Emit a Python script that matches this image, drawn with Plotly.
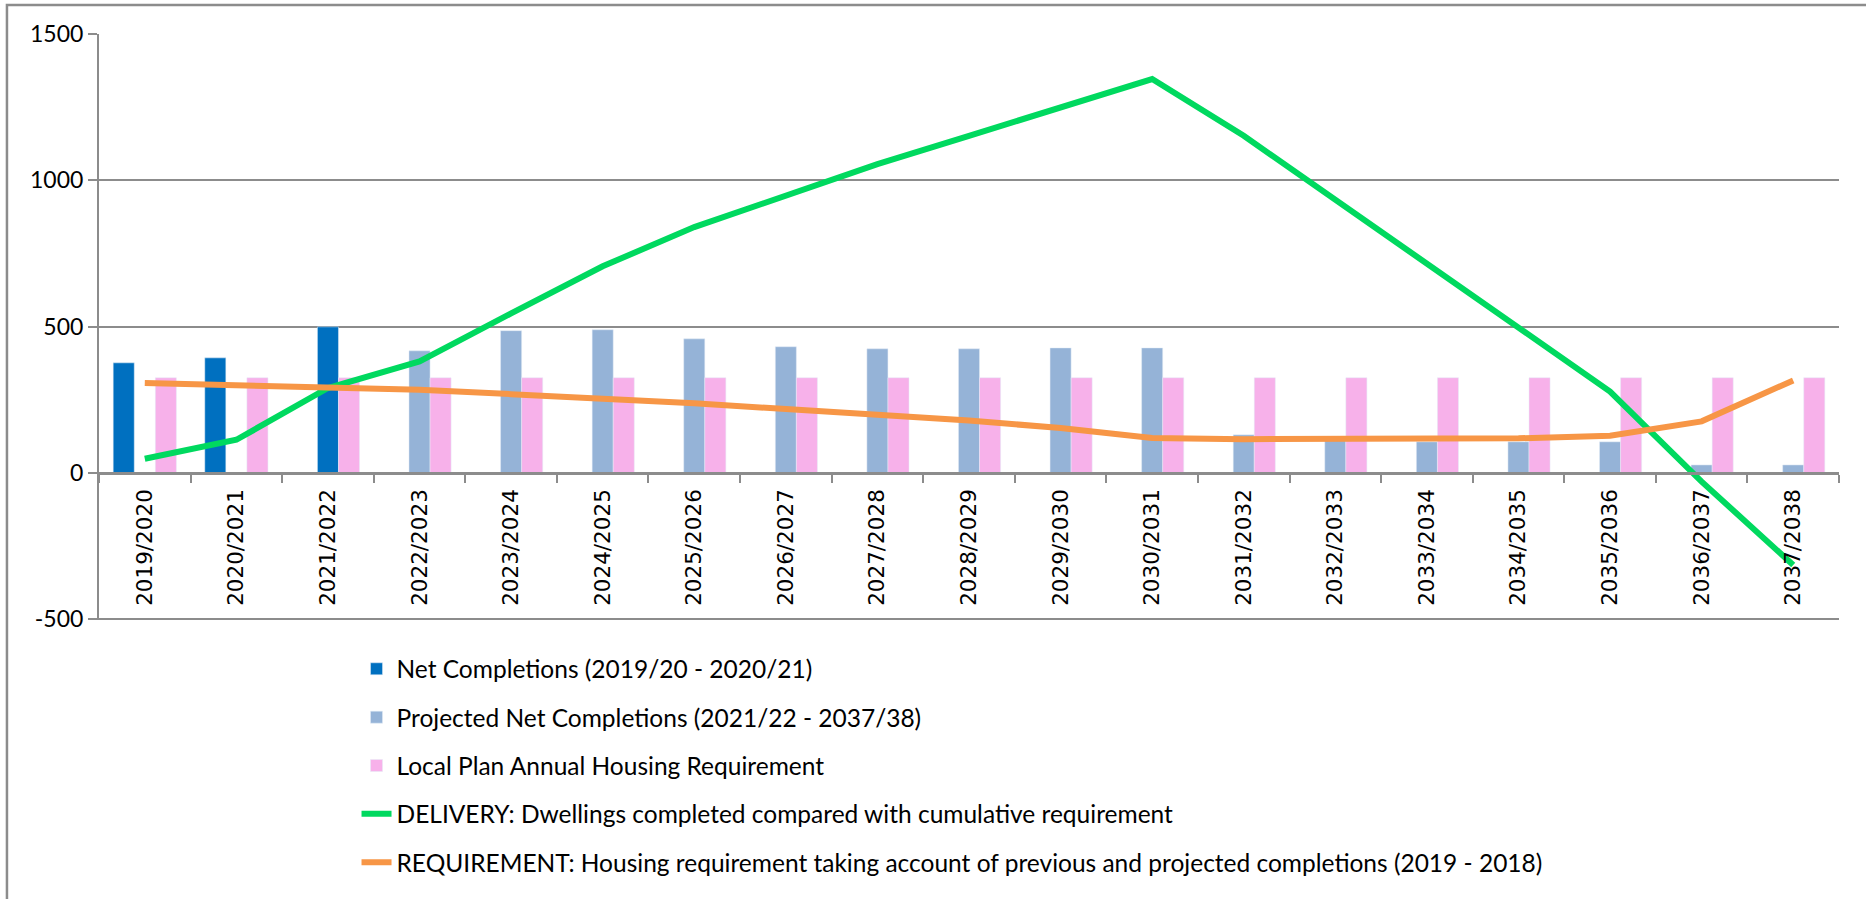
import plotly.graph_objects as go

categories = ["2019/2020", "2020/2021", "2021/2022", "2022/2023", "2023/2024", "2024/2025",
              "2025/2026", "2026/2027", "2027/2028", "2028/2029", "2029/2030", "2030/2031",
              "2031/2032", "2032/2033", "2033/2034", "2034/2035", "2035/2036", "2036/2037",
              "2037/2038"]

net_completions = [376, 393]                 # 2019/20 - 2020/21
completed_2021_22 = [499]                    # 2021/22 (shown dark blue)
projected_completions = [417, 486, 489, 458, 431, 424, 424, 427, 427,
                         130, 115, 106, 106, 106, 27, 27]   # 2022/23 - 2037/38
local_plan_requirement = [325] * 19
delivery = [48, 113, 290, 381, 545, 706, 840, 946, 1055, 1152, 1249, 1346,
            1152, 934, 716, 498, 278, -30, -315]
requirement = [307, 301, 292, 284, 269, 254, 238, 218, 200, 179, 153, 119,
               115, 115, 116, 118, 127, 176, 316]

y_tick_values = [-500, 0, 500, 1000, 1500]
y_tick_labels = ["-500", "0", "500", "1000", "1500"]

DARK_BLUE = "#0070C0"
LIGHT_BLUE = "#95B3D7"
PINK = "#F7B1EA"
GREEN = "#00D95F"
ORANGE = "#F79646"
GRID = "#8C8C8C"

fig = go.Figure()
fig.add_trace(go.Bar(x=categories[0:2], y=net_completions, name="Net Completions (2019/20 - 2020/21)",
                     marker_color=DARK_BLUE, offsetgroup="a", legendgroup="g1"))
fig.add_trace(go.Bar(x=categories[2:3], y=completed_2021_22, name="Net Completions (2021/22)",
                     marker_color=DARK_BLUE, offsetgroup="b", legendgroup="g1", showlegend=False))
fig.add_trace(go.Bar(x=categories[3:], y=projected_completions,
                     name="Projected Net Completions (2021/22 - 2037/38)",
                     marker_color=LIGHT_BLUE, offsetgroup="b", legendgroup="g2"))
fig.add_trace(go.Bar(x=categories, y=local_plan_requirement, name="Local Plan Annual Housing Requirement",
                     marker_color=PINK, offsetgroup="c", legendgroup="g3"))
fig.add_trace(go.Scatter(x=categories, y=delivery, mode="lines",
                         name="DELIVERY: Dwellings completed compared with cumulative requirement",
                         line=dict(color=GREEN, width=6), legendgroup="g4"))
fig.add_trace(go.Scatter(x=categories, y=requirement, mode="lines",
                         name="REQUIREMENT: Housing requirement taking account of previous and projected completions (2019 - 2018)",
                         line=dict(color=ORANGE, width=6), legendgroup="g5"))

fig.update_layout(
    width=1866, height=899,
    margin=dict(l=99, r=27, t=34, b=279),
    paper_bgcolor="white", plot_bgcolor="white",
    barmode="group", bargap=0.31, bargroupgap=0,
    showlegend=True,
    legend=dict(x=0.148, xanchor="left", y=-0.045, yanchor="top",
                font=dict(family="Lato", size=24.5, color="black"),
                tracegroupgap=13.5, bgcolor="rgba(0,0,0,0)"),
    xaxis=dict(type="category", categoryorder="array", categoryarray=categories,
               anchor="free", position=503 / 2003,
               showline=True, linecolor=GRID, linewidth=2.5,
               ticks="outside", tickson="boundaries", ticklen=8, tickwidth=2, tickcolor=GRID,
               tickangle=-90, tickfont=dict(family="DejaVu Sans", size=21.5, color="black"),
               ticklabelstandoff=6,
               showgrid=False, zeroline=False),
    yaxis=dict(range=[-503, 1500], tickmode="array", tickvals=y_tick_values, ticktext=y_tick_labels,
               showgrid=True, gridcolor=GRID, gridwidth=2,
               showline=True, linecolor=GRID, linewidth=2,
               ticks="outside", ticklen=9, tickwidth=2, tickcolor=GRID,
               tickfont=dict(family="Lato", size=23, color="black"),
               zeroline=False),
    shapes=[
        dict(type="rect", xref="paper", yref="paper",
             x0=-0.0529, x1=1.2, y0=-0.8, y1=1.0496,
             line=dict(color=GRID, width=2.5), fillcolor="rgba(0,0,0,0)", layer="below"),
        dict(type="line", xref="paper", yref="y",
             x0=0, x1=1, y0=y_tick_values[0], y1=y_tick_values[0],
             line=dict(color=GRID, width=2), layer="below"),
    ],
)

fig.write_html("out.html")
